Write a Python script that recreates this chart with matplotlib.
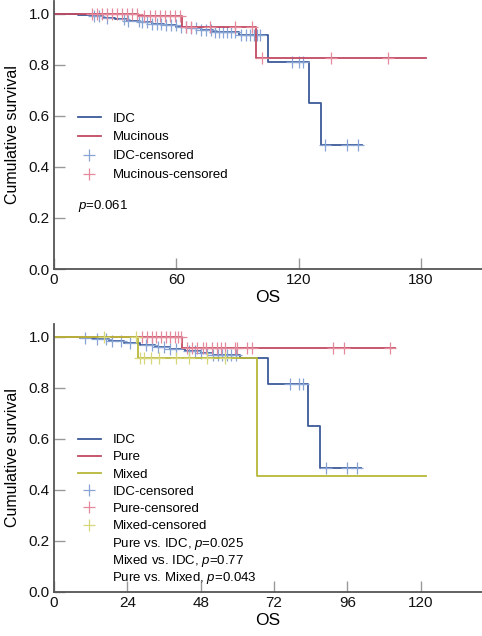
import numpy as np
import matplotlib
matplotlib.use("Agg")
import matplotlib.pyplot as plt
from matplotlib.lines import Line2D

plt.rcParams['font.family'] = ['Liberation Sans', 'DejaVu Sans']
plt.rcParams['mathtext.fontset'] = 'custom'
plt.rcParams['mathtext.it'] = 'Liberation Sans:italic'
plt.rcParams['mathtext.rm'] = 'Liberation Sans'

# ---- top panel: IDC vs Mucinous ----
idc1_t = [0, 12, 18, 24, 30, 36, 42, 48, 54, 60, 66, 72, 78, 91, 105, 125, 131]
idc1_s = [1.0, 0.995, 0.99, 0.985, 0.98, 0.973, 0.966, 0.96, 0.955, 0.95, 0.944, 0.937, 0.93, 0.915, 0.813, 0.65, 0.485]
idc1_end = 151
idc1_cens = [19.6, 22, 26, 34.3, 36.5, 41.7, 43.3, 45.8, 48.2, 50.7, 52.3, 54.8, 57.2, 59.7, 62.1,
             64.6, 67, 69.5, 72, 74.4, 76.9, 79, 81, 83, 85, 87, 88.8, 92, 94, 96, 98, 99.5, 101,
             117, 120, 122, 133, 144, 149]

muc_t = [0, 41, 63, 99]
muc_s = [1.0, 0.991, 0.948, 0.826]
muc_end = 182.5
muc_cens = [18.6, 21, 23.5, 26, 28.5, 31, 33.5, 36, 38.5, 40.7, 44, 47, 49.5, 52, 54.5, 57, 59.5,
            62, 65, 67, 76.5, 88.8, 97, 102, 136, 164]

# ---- bottom panel: IDC vs Pure vs Mixed ----
idc2_t = [0, 8.5, 13, 18, 23, 28, 33, 38, 43, 48, 52, 61, 70, 83, 87]
idc2_s = [1.0, 0.995, 0.99, 0.983, 0.976, 0.968, 0.96, 0.953, 0.946, 0.935, 0.93, 0.916, 0.813, 0.65, 0.485]
idc2_end = 100.5
idc2_cens = [10, 14, 17, 19, 22, 25, 30, 32, 34, 36, 38, 40, 44, 46, 48, 50, 52, 53.5, 55, 56.5,
             58, 59.5, 77.2, 80.1, 81.4, 89, 95.8, 99.1]

pure_t = [0, 42]
pure_s = [1.0, 0.955]
pure_end = 111.5
pure_cens = [28.7, 30.5, 32, 33.5, 35, 36.5, 38, 39.5, 40.5, 41.7, 43.4, 45, 46.7, 48.7, 49.7,
             51.7, 53.3, 54.6, 55.9, 59.2, 59.8, 63.1, 64.7, 91.2, 94.8, 109.9]

mix_t = [0, 27.6, 66.5]
mix_s = [1.0, 0.915, 0.455]
mix_end = 121.7
mix_cens = [16.4, 26.8, 28, 29.4, 31.7, 34.3, 40, 44, 50, 56]

blue, blue_c = '#3d5b98', '#88a4d4'
red, red_c = '#c24a62', '#e48a9c'
yel, yel_c = '#b8b83a', '#d6d67a'


def surv_at(times, vals, t):
    idx = np.searchsorted(times, t, side='right') - 1
    return np.array(vals)[idx]


def draw_group(ax, times, vals, end, cens, col, col_c):
    ax.step(list(times) + [end], list(vals) + [vals[-1]], where='post', color=col, lw=1.3)
    ax.plot(cens, surv_at(times, vals, cens), ls='none', marker='+', ms=8, mew=0.9, color=col_c)


def style(ax, xmax, xticks):
    ax.set_xlim(0, xmax)
    ax.set_ylim(0, 1.05)
    ax.set_xticks(xticks)
    ax.set_yticks([0.0, 0.2, 0.4, 0.6, 0.8, 1.0])
    ax.set_yticklabels(['0.0', '0.2', '0.4', '0.6', '0.8', '1.0'])
    for s in ['top', 'right']:
        ax.spines[s].set_visible(False)
    for s in ['left', 'bottom']:
        ax.spines[s].set_color('#555555')
        ax.spines[s].set_linewidth(1.3)
    ax.tick_params(direction='in', length=8, width=1, color='#999999', labelsize=11,
                   labelcolor='#111111', pad=3)
    ax.set_xlabel('OS', fontsize=12.5, labelpad=2)
    ax.set_ylabel('Cumulative survival', fontsize=11.5, labelpad=6)


def legend(ax, names, cols, cols_c, y0, spacing):
    handles = [Line2D([], [], color=c, lw=1.3) for c in cols]
    handles += [Line2D([], [], ls='none', marker='+', ms=9, mew=0.9, color=c) for c in cols_c]
    labels = names + [n + '-censored' for n in names]
    ax.legend(handles, labels, loc='upper left', bbox_to_anchor=(0.044, y0), frameon=False,
              fontsize=9.5, handlelength=1.7, handletextpad=0.9, labelspacing=spacing,
              borderaxespad=0)


fig = plt.figure(figsize=(4.82, 6.36), dpi=100)

ax1 = fig.add_axes([0.112, 0.577, 0.888, 0.4214])
draw_group(ax1, idc1_t, idc1_s, idc1_end, idc1_cens, blue, blue_c)
draw_group(ax1, muc_t, muc_s, muc_end, muc_cens, red, red_c)
style(ax1, 210, [0, 60, 120, 180])
legend(ax1, ['IDC', 'Mucinous'], [blue, red], [blue_c, red_c], 0.604, 0.5)
ax1.text(0.056, 0.237, '$p$=0.061', transform=ax1.transAxes, fontsize=9.5, va='center')

ax2 = fig.add_axes([0.112, 0.0692, 0.888, 0.4214])
draw_group(ax2, idc2_t, idc2_s, idc2_end, idc2_cens, blue, blue_c)
draw_group(ax2, pure_t, pure_s, pure_end, pure_cens, red, red_c)
draw_group(ax2, mix_t, mix_s, mix_end, mix_cens, yel, yel_c)
style(ax2, 140, [0, 24, 48, 72, 96, 120])
legend(ax2, ['IDC', 'Pure', 'Mixed'], [blue, red, yel], [blue_c, red_c, yel_c], 0.609, 0.375)
ptxt = ['Pure vs. IDC, $p$=0.025', 'Mixed vs. IDC, $p$=0.77', 'Pure vs. Mixed, $p$=0.043']
for i, t in enumerate(ptxt):
    ax2.text(0.135, 0.180 - i * 0.064, t, transform=ax2.transAxes, fontsize=9.5, va='center')

fig.savefig('out.png', dpi=100)
